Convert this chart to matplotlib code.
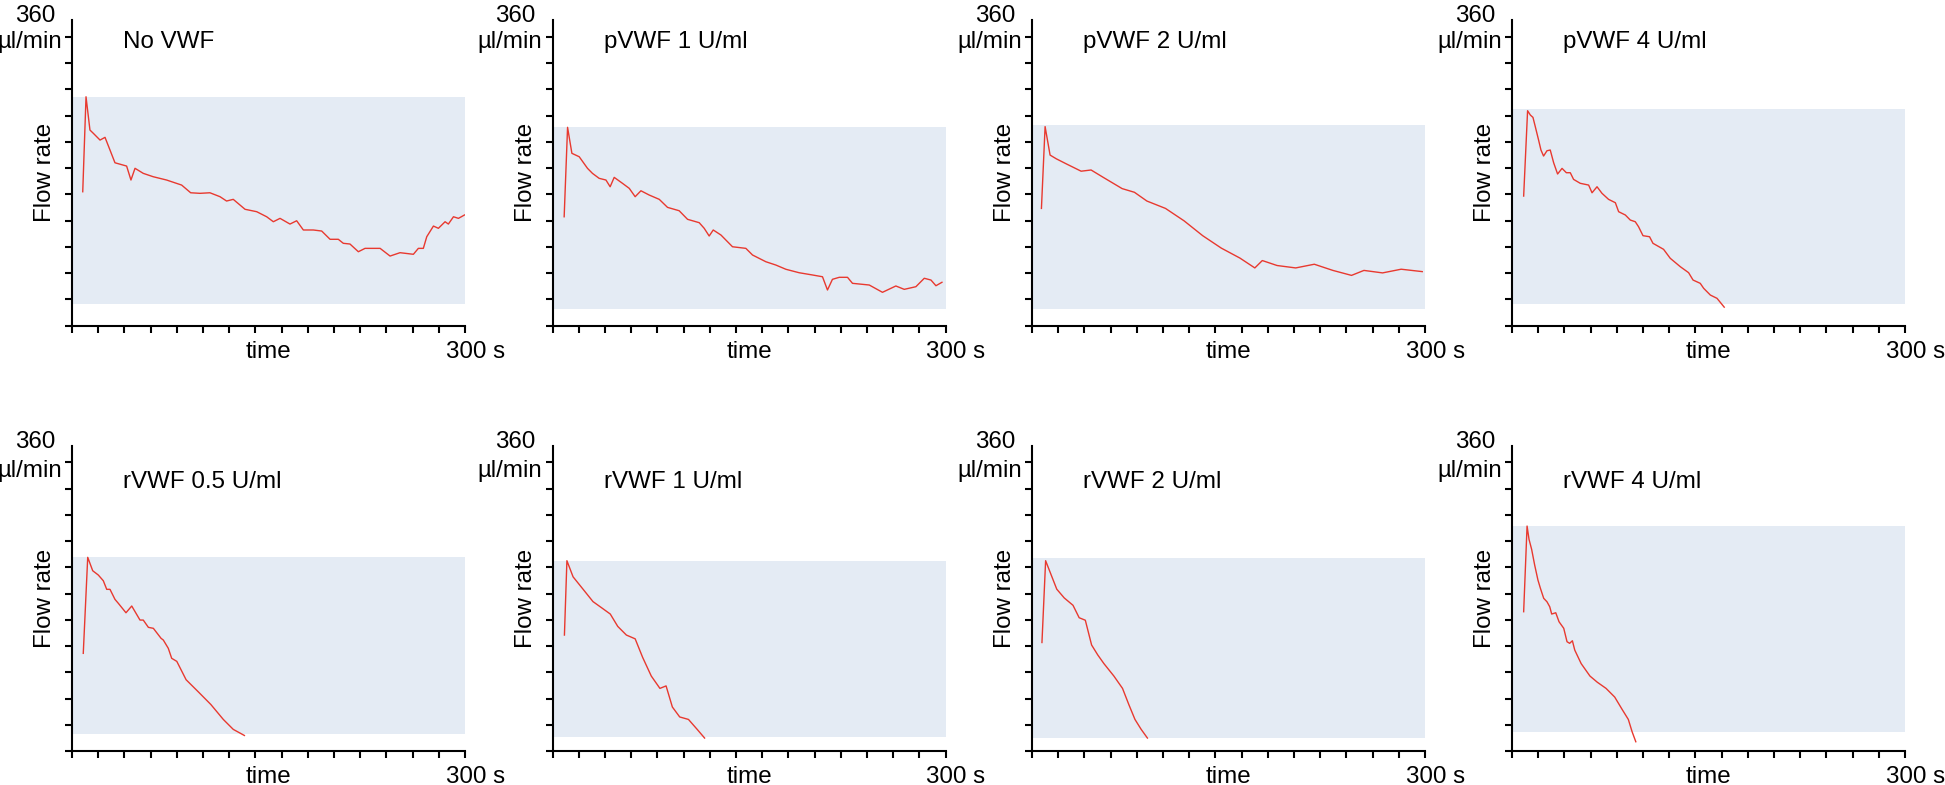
import matplotlib.pyplot as plt
import numpy as np

plt.rcParams['font.family'] = ['Liberation Sans', 'DejaVu Sans']

titles = ['No VWF', 'pVWF 1 U/ml', 'pVWF 2 U/ml', 'pVWF 4 U/ml',
          'rVWF 0.5 U/ml', 'rVWF 1 U/ml', 'rVWF 2 U/ml', 'rVWF 4 U/ml']

# time (s) and flow rate (µl/min)
t_no = [8.2, 10.7, 13.7, 16.3, 21.4, 25.2, 29.0, 32.8, 41.7, 45.0, 48.1, 54.4, 62.0, 72.2, 83.7,
        90.6, 97.7, 105.3, 113.0, 118.0, 123.1, 132.1, 141.0, 148.6, 153.7, 158.8, 166.4, 171.5,
        176.6, 184.2, 190.6, 197.0, 203.3, 207.1, 212.2, 218.6, 223.7, 235.2, 242.8, 250.4, 260.6,
        264.4, 268.2, 270.8, 275.9, 279.7, 284.8, 287.3, 291.2, 295.0, 299.6]
f_no = [166.9, 285.3, 243.8, 239.7, 231.3, 234.7, 218.9, 203.0, 198.9, 181.5, 196.1, 189.8, 185.6,
        181.5, 175.2, 165.6, 164.9, 165.6, 160.7, 155.3, 157.4, 145.0, 142.0, 135.7, 129.5, 133.7,
        126.6, 130.7, 119.2, 119.2, 117.9, 107.6, 107.6, 102.6, 101.7, 92.1, 96.3, 96.3, 86.7, 90.9,
        88.9, 96.3, 96.3, 110.8, 124.1, 121.3, 129.5, 126.6, 135.7, 133.7, 137.9]

t_p1 = [8.9, 11.5, 14.8, 20.4, 26.7, 30.5, 35.6, 40.8, 44.0, 47.1, 53.4, 58.6, 63.1, 67.5, 73.8,
        81.5, 87.8, 96.7, 103.1, 112.0, 115.8, 119.6, 122.7, 128.6, 137.4, 147.6, 152.7, 162.9,
        170.5, 178.2, 188.3, 198.5, 206.1, 209.9, 213.7, 218.9, 225.2, 229.0, 241.8, 251.9, 262.1,
        268.5, 277.4, 283.8, 288.9, 292.7, 297.3]
f_p1 = [135.7, 247.2, 214.8, 210.5, 196.1, 189.8, 183.6, 181.5, 173.1, 184.8, 177.4, 171.1, 160.7,
        168.1, 162.8, 157.4, 147.4, 143.2, 132.5, 128.3, 121.3, 111.7, 119.2, 112.9, 98.3, 96.3,
        88.0, 79.6, 75.5, 70.2, 65.9, 63.1, 60.9, 44.4, 57.7, 60.2, 60.2, 52.7, 50.6, 41.5, 49.4,
        45.2, 48.5, 59.0, 56.8, 49.7, 54.0]

t_p2 = [7.2, 10.0, 13.8, 18.6, 26.1, 37.5, 45.1, 54.5, 68.8, 78.2, 87.7, 101.9, 116.1, 130.3,
        144.5, 158.7, 170.1, 175.8, 187.1, 201.3, 215.5, 229.7, 243.9, 253.4, 267.6, 281.8, 297.9]
f_p2 = [146.1, 248.1, 212.6, 207.9, 201.7, 192.5, 194.0, 184.7, 170.8, 166.2, 155.3, 146.1, 130.6,
        112.1, 96.6, 84.2, 71.9, 81.1, 74.9, 71.9, 76.5, 68.8, 62.6, 68.8, 65.7, 70.3, 67.3]

t_p4 = [8.9, 11.9, 14.0, 16.0, 17.8, 20.3, 22.1, 24.1, 26.7, 29.2, 31.8, 34.8, 38.2, 41.5, 44.5,
        47.0, 52.1, 58.5, 61.1, 64.9, 68.7, 73.7, 78.9, 81.4, 86.5, 90.3, 94.1, 96.6, 100.0, 105.0,
        107.6, 115.7, 120.8, 128.5, 134.8, 138.2, 143.7, 146.3, 151.4, 156.5, 162.0]
f_p4 = [161.5, 267.9, 262.5, 259.6, 247.9, 231.3, 218.9, 211.4, 218.0, 218.9, 203.0, 189.0, 196.0,
        190.6, 190.6, 182.3, 177.4, 175.2, 165.6, 173.1, 164.9, 157.4, 153.2, 142.0, 137.9, 131.6,
        129.5, 123.3, 112.1, 110.8, 102.6, 95.1, 83.9, 73.4, 66.0, 56.8, 52.7, 46.5, 38.1, 34.0, 23.0]

t_r05 = [8.6, 12.0, 15.8, 20.1, 23.9, 26.5, 29.0, 32.8, 35.4, 41.2, 45.6, 51.9, 54.4, 58.3, 62.1,
         68.0, 69.7, 73.5, 76.1, 80.0, 87.1, 96.6, 106.0, 115.5, 123.1, 131.6]
f_r05 = [122.0, 241.7, 225.0, 219.6, 212.5, 201.8, 201.8, 189.3, 184.3, 172.6, 181.0, 163.5, 163.5,
         154.4, 153.2, 140.7, 138.6, 128.3, 115.8, 112.0, 89.1, 73.7, 58.2, 39.6, 27.2, 19.6]

t_r1 = [9.1, 11.0, 15.7, 23.3, 30.9, 37.5, 44.1, 49.8, 56.4, 63.1, 68.8, 75.4, 82.0, 86.7, 91.5,
        97.1, 103.8, 110.4, 116.1]
f_r1 = [144.8, 237.5, 217.4, 202.0, 186.5, 178.8, 171.0, 155.6, 144.8, 140.1, 117.0, 93.7, 78.3,
        81.4, 55.1, 42.7, 39.6, 27.3, 16.4]

t_r2 = [7.6, 10.4, 15.2, 18.9, 24.6, 31.3, 36.0, 40.7, 45.5, 50.2, 54.9, 62.5, 69.1, 73.9, 78.6,
        83.3, 88.1]
f_r2 = [135.5, 237.5, 217.4, 202.0, 191.1, 181.9, 166.4, 163.3, 132.4, 120.0, 109.2, 93.7, 78.3,
        58.2, 39.6, 27.3, 16.4]

t_r4 = [8.9, 11.5, 13.0, 15.0, 17.3, 19.8, 21.7, 24.2, 26.7, 28.8, 30.3, 33.4, 35.9, 39.5, 42.0,
        44.0, 46.1, 47.9, 52.8, 59.5, 65.1, 71.8, 78.4, 84.1, 88.8, 91.7, 94.5]
f_r4 = [173.9, 280.7, 264.1, 251.6, 232.1, 213.4, 203.0, 190.6, 186.3, 180.1, 171.0, 172.6, 161.4,
        153.2, 136.5, 134.5, 137.7, 126.1, 109.2, 93.7, 86.0, 78.3, 67.5, 52.0, 39.6, 24.2, 11.8]

times = [t_no, t_p1, t_p2, t_p4, t_r05, t_r1, t_r2, t_r4]
flows = [f_no, f_p1, f_p2, f_p4, f_r05, f_r1, f_r2, f_r4]

# shaded band (µl/min) behind each trace
band_top = [284.9, 247.2, 249.7, 269.6, 241.7, 237.5, 240.6, 280.7]
band_bottom = [26.9, 20.8, 20.8, 26.9, 21.1, 18.0, 16.4, 24.2]

W, H = 1945, 785
fig = plt.figure(figsize=(W / 100, H / 100), dpi=100)

col_x = [72, 552.5, 1032, 1512]
row_top = [20, 445.6]
ax_w, ax_h = 393, 305.6
fs = 17.4
red = '#e8392f'
band = '#e4ebf4'

for i in range(8):
    r, c = divmod(i, 4)
    x0, y0 = col_x[c], row_top[r]
    ax = fig.add_axes([x0 / W, 1 - (y0 + ax_h) / H, ax_w / W, ax_h / H])
    ax.set_xlim(0, 300)
    ax.set_ylim(0, 381)
    ax.axhspan(band_bottom[i], band_top[i], color=band, lw=0, zorder=0)
    ax.plot(times[i], flows[i], color=red, lw=1.0, zorder=2)

    for s in ['top', 'right']:
        ax.spines[s].set_visible(False)
    for s in ['left', 'bottom']:
        ax.spines[s].set_linewidth(1.5)
    ax.set_yticks(np.linspace(0, 360, 12))
    ax.set_xticks(np.arange(0, 301, 20))
    ax.tick_params(axis='both', direction='out', length=5, width=1.5,
                   labelleft=False, labelbottom=False)
    ax.set_facecolor('none')

    def fx(dx):
        return dx / ax_w

    def fy(dy):
        return 1 - dy / ax_h

    tb = 28.3 if r == 0 else 42.7
    ax.text(fx(51), fy(tb), titles[i], transform=ax.transAxes, fontsize=fs,
            ha='left', va='baseline')
    ax.text(fx(-17), fy(2), '360', transform=ax.transAxes, fontsize=fs,
            ha='right', va='baseline', clip_on=False)
    ax.text(fx(-10), fy(28.3 if r == 0 else 31), 'µl/min', transform=ax.transAxes,
            fontsize=fs, ha='right', va='baseline', clip_on=False)
    ax.text(fx(-27), 0.5, 'Flow rate', transform=ax.transAxes, fontsize=fs,
            rotation=90, ha='center', va='center')
    ax.text(0.5, fy(ax_h + 32), 'time', transform=ax.transAxes, fontsize=fs,
            ha='center', va='baseline')
    ax.text(fx(ax_w - 19), fy(ax_h + 32), '300 s', transform=ax.transAxes,
            fontsize=fs, ha='left', va='baseline')

fig.savefig('out.png', dpi=100)
